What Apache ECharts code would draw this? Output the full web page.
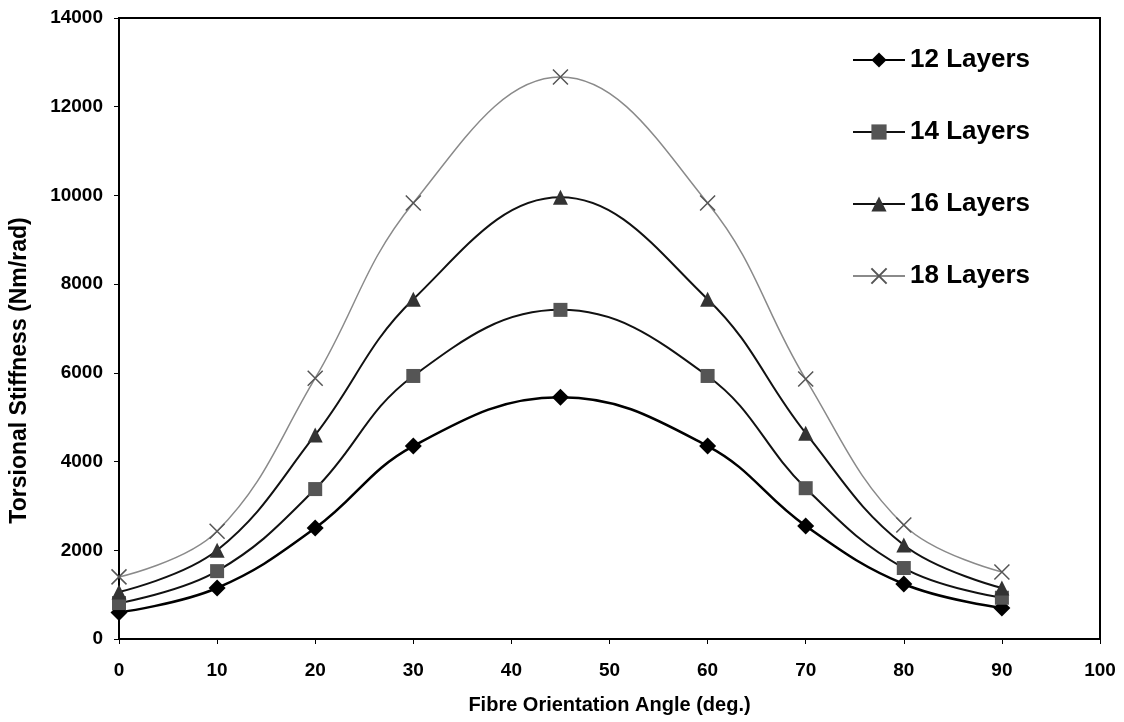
<!DOCTYPE html>
<html>
<head>
<meta charset="utf-8">
<script src="https://cdn.jsdelivr.net/npm/echarts@6/dist/echarts.min.js"></script>
<style>
  html, body { margin: 0; padding: 0; background: #fff; }
  #chart { width: 1124px; height: 722px; }
</style>
</head>
<body>
<div id="chart"></div>
<script>
// == Data ====================================================================
const angles = [0, 10, 20, 30, 45, 60, 70, 80, 90]
const layers12 = [600, 1150, 2500, 4350, 5450, 4350, 2550, 1240, 700]
const layers14 = [810, 1530, 3380, 5930, 7420, 5930, 3400, 1600, 930]
const layers16 = [1060, 2000, 4600, 7660, 9960, 7660, 4640, 2120, 1150]
const layers18 = [1400, 2430, 5880, 9830, 12670, 9830, 5860, 2570, 1510]
const seriesNames = ['12 Layers', '14 Layers', '16 Layers', '18 Layers']

const font = '"Liberation Sans", Arial, sans-serif'
const cross = 'path://M0,0L10,10M10,0L0,10'

function pairs (ys) {
  return angles.map((x, i) => [x, ys[i]])
}

function line (name, ys, symbol, size, color, lineColor, width, extra) {
  return Object.assign({
    name,
    type: 'line',
    data: pairs(ys),
    smooth: 0.4,
    symbol,
    symbolSize: size,
    showAllSymbol: true,
    lineStyle: {color: lineColor, width},
    itemStyle: {color},
    z: 2
  }, extra || {})
}

const option = {
  backgroundColor: '#fff',
  animation: false,
  grid: {
    left: 118, top: 18, right: 24, bottom: 83,
    show: true, borderColor: '#000', borderWidth: 2
  },
  legend: {
    orient: 'vertical',
    left: 847,
    top: 40,
    itemWidth: 52,
    itemHeight: 19,
    itemGap: 42,
    textStyle: {fontFamily: font, fontWeight: 'bold', fontSize: 26, lineHeight: 30, color: '#000'},
    data: seriesNames
  },
  xAxis: {
    type: 'value',
    min: 0,
    max: 100,
    interval: 10,
    name: 'Fibre Orientation Angle (deg.)',
    nameLocation: 'middle',
    nameGap: 56,
    nameTextStyle: {fontFamily: font, fontWeight: 'bold', fontSize: 20, color: '#000'},
    axisLine: {onZero: false, lineStyle: {color: '#000', width: 2}},
    axisTick: {show: true, length: 5, lineStyle: {color: '#000', width: 1}},
    axisLabel: {margin: 22, fontFamily: font, fontWeight: 'bold', fontSize: 19, color: '#000'},
    splitLine: {show: false}
  },
  yAxis: {
    type: 'value',
    min: 0,
    max: 14000,
    interval: 2000,
    name: 'Torsional Stiffness (Nm/rad)',
    nameLocation: 'middle',
    nameGap: 88,
    nameTextStyle: {fontFamily: font, fontWeight: 'bold', fontSize: 23, color: '#000', padding: [0, 84, 0, 0]},
    axisLine: {onZero: false, lineStyle: {color: '#000', width: 2}},
    axisTick: {show: true, length: 5, lineStyle: {color: '#000', width: 1}},
    axisLabel: {
      margin: 16, fontFamily: font, fontWeight: 'bold', fontSize: 19, color: '#000',
      formatter: v => String(v)
    },
    splitLine: {show: false}
  },
  series: [
    line(seriesNames[0], layers12, 'diamond', 17, '#000', '#000', 2.5),
    line(seriesNames[1], layers14, 'rect', 14, '#555', '#111', 2),
    line(seriesNames[2], layers16, 'triangle', 15, '#333', '#111', 2),
    line(seriesNames[3], layers18, cross, 15, 'none', '#8a8a8a', 1.5, {
      itemStyle: {color: 'none', borderColor: '#555', borderWidth: 1.5}
    })
  ]
}

const myChart = echarts.init(document.getElementById('chart'))
myChart.setOption(option)
</script>
</body>
</html>
